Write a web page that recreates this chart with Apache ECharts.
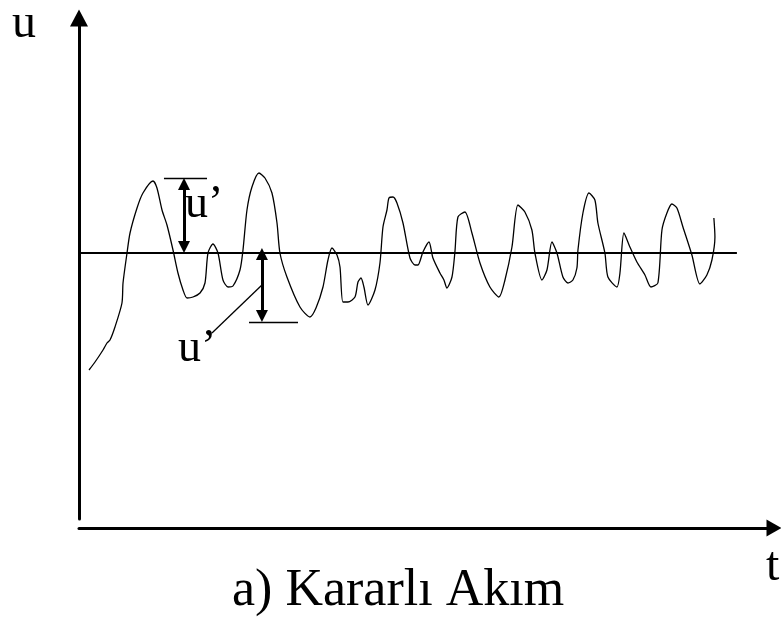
<!DOCTYPE html>
<html>
<head>
<meta charset="utf-8">
<script src="https://cdn.jsdelivr.net/npm/echarts@6/dist/echarts.min.js"></script>
<style>
  html, body { margin: 0; padding: 0; background: #fff; }
  #chart { width: 781px; height: 617px; }
</style>
</head>
<body>
<div id="chart"></div>
<script>
// Time samples t and the fluctuating velocity u (mean value taken as 0)
const tValues = [
  1.43, 2.29, 3.43, 4.0, 4.43, 5.14, 6.14, 6.29, 6.86, 7.29, 8.29, 9.14, 10.57, 11.14, 11.86, 12.57,
  13.43, 14.14, 14.86, 15.43, 16.29, 17.29, 18.0, 18.43, 19.14, 19.86, 20.57, 21.29, 22.0, 23.0,
  23.43, 24.0, 24.71, 25.71, 26.57, 27.57, 28.29, 28.71, 29.71, 31.57, 33.0, 33.86, 34.86, 35.57,
  36.14, 36.86, 37.29, 37.71, 38.43, 39.43, 39.86, 40.29, 40.71, 41.29, 42.29, 43.0, 43.43, 44.0,
  44.29, 44.86, 45.43, 46.29, 47.29, 48.0, 48.43, 49.14, 50.0, 50.57, 51.57, 52.14, 52.57, 53.29,
  53.71, 54.14, 55.14, 56.14, 57.29, 58.71, 60.0, 60.86, 61.86, 62.71, 63.71, 64.71, 65.14, 66.14,
  66.86, 67.57, 68.29, 69.14, 69.86, 70.57, 71.14, 71.29, 72.0, 72.86, 73.71, 74.14, 75.14, 75.57,
  76.86, 77.29, 77.86, 78.71, 79.71, 80.86, 81.71, 82.71, 83.29, 84.0, 84.71, 85.43, 86.29, 87.57,
  88.71, 89.71, 90.43, 90.86, 90.71
];
const uValues = [
  -5.85, -5.45, -4.85, -4.5, -4.35, -3.7, -2.5, -1.5, 0, 1.0, 2.25, 3.0, 3.6, 3.25, 2.15, 1.4,
  0.15, -1.0, -1.85, -2.25, -2.2, -2.0, -1.5, 0, 0.45, 0, -1.35, -1.7, -1.65, -0.85,
  0.15, 2.15, 3.3, 4.0, 3.75, 3.0, 1.5, 0, -1.2, -2.7, -3.2, -2.75, -1.7, -0.35,
  0.25, -0.1, -0.7, -2.45, -2.45, -2.2, -1.45, -1.25, -1.7, -2.6, -1.85, -0.5, 1.3, 2.15,
  2.75, 2.8, 2.5, 1.5, -0.25, -0.6, -0.6, 0.05, 0.55, -0.25, -1.0, -1.35, -1.75, -1.2,
  0.05, 1.8, 2.05, 1.0, -0.5, -1.7, -2.2, -1.35, 0.3, 2.4, 2.05, 1.15, 0, -1.35,
  -0.85, 0.55, 0, -1.2, -1.5, -1.35, -0.75, 0.15, 2.0, 3.0, 2.65, 1.5, 0, -1.2,
  -1.7, -1.0, 1.0, 0.3, -0.45, -1.1, -1.7, -1.5, 1.15, 2.0, 2.45, 2.25, 1.3, -0.1,
  -1.55, -1.1, -0.35, 0.8, 1.75
];

// Mean level and where its reference line ends
const meanU = 0;
const meanLineEnd = [0, 94.0];

// Fluctuation u' above the mean (first marker) and below it (second marker)
const upperFluct = { t: 15.0, from: 3.75, to: 0, tickFrom: 12.14, tickTo: 18.29 };
const lowerFluct = { t: 26.14, from: 0.25, to: -3.45, tickFrom: 24.29, tickTo: 31.29 };
const leader = [[26.14, -1.6], [19.0, -4.0]];

const axisRange = { tMin: 0, tMax: 99.3, uMin: -13.3, uMax: 11.75 };

const signal = tValues.map((t, i) => [t, uValues[i]]);

const serif = '"Liberation Serif", "DejaVu Serif", serif';
const black = '#000';

// Arrowheads are centred on the line ends, so the double arrows stop half a head short
const headInset = 0.3;

const chart = echarts.init(document.getElementById('chart'), null, { renderer: 'canvas' });

chart.setOption({
  backgroundColor: '#fff',
  animation: false,
  grid: { left: 79, right: 7, top: 18, bottom: 98, containLabel: false },
  xAxis: {
    type: 'value',
    min: axisRange.tMin,
    max: axisRange.tMax,
    offset: 9,
    axisLine: {
      show: true,
      onZero: false,
      symbol: ['none', 'triangle'],
      symbolSize: [17, 15],
      lineStyle: { color: black, width: 3 }
    },
    axisTick: { show: false },
    axisLabel: { show: false },
    splitLine: { show: false }
  },
  yAxis: {
    type: 'value',
    min: axisRange.uMin,
    max: axisRange.uMax,
    axisLine: {
      show: true,
      onZero: false,
      symbol: ['none', 'triangle'],
      symbolSize: [18, 17],
      lineStyle: { color: black, width: 3 }
    },
    axisTick: { show: false },
    axisLabel: { show: false },
    splitLine: { show: false }
  },
  series: [
    {
      name: 'mean',
      type: 'line',
      data: meanLineEnd.map(t => [t, meanU]),
      symbol: 'none',
      lineStyle: { color: black, width: 2 },
      z: 2
    },
    {
      name: 'u',
      type: 'line',
      data: signal,
      symbol: 'none',
      smooth: 0.25,
      lineStyle: { color: black, width: 1.3 },
      z: 3
    },
    {
      name: 'fluctuations',
      type: 'line',
      data: [],
      symbol: 'none',
      markLine: {
        silent: true,
        animation: false,
        label: { show: false },
        lineStyle: { color: black, width: 3, type: 'solid' },
        symbol: ['triangle', 'triangle'],
        symbolSize: [12, 12],
        data: [
          [{ coord: [upperFluct.t, upperFluct.from - headInset] }, { coord: [upperFluct.t, upperFluct.to + headInset] }],
          [{ coord: [lowerFluct.t, lowerFluct.from - headInset] }, { coord: [lowerFluct.t, lowerFluct.to + headInset] }],
          [{ coord: [upperFluct.tickFrom, upperFluct.from], symbol: 'none', lineStyle: { width: 1.3 } },
           { coord: [upperFluct.tickTo, upperFluct.from], symbol: 'none' }],
          [{ coord: [lowerFluct.tickFrom, lowerFluct.to], symbol: 'none', lineStyle: { width: 1.3 } },
           { coord: [lowerFluct.tickTo, lowerFluct.to], symbol: 'none' }],
          [{ coord: leader[0], symbol: 'none', lineStyle: { width: 1.3 } },
           { coord: leader[1], symbol: 'none' }]
        ]
      },
      z: 4
    }
  ],
  graphic: [
    { type: 'text', left: 12, top: 0, style: { text: 'u', font: '48px ' + serif, fill: black } },
    { type: 'text', left: 766, top: 543, style: { text: 't', font: '48px ' + serif, fill: black } },
    { type: 'text', left: 185, top: 182, style: { text: 'u’', font: '46px ' + serif, fill: black } },
    { type: 'text', left: 178, top: 326, style: { text: 'u’', font: '46px ' + serif, fill: black } },
    { type: 'text', left: 232, top: 565, style: { text: 'a) Kararlı Akım', font: '52px ' + serif, fill: black } }
  ]
});
</script>
</body>
</html>
